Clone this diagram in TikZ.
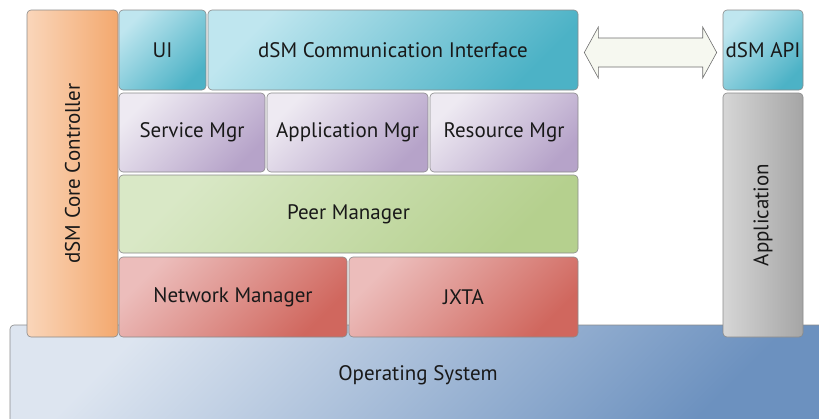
\documentclass[tikz,border=0pt]{standalone}
\usepackage{fontspec}
\setmainfont{PT Sans}
\usetikzlibrary{calc}
\usepackage{xcolor}
\definecolor{edgegray}{RGB}{138,138,138}
\definecolor{ctrlA}{RGB}{250,214,186}
\definecolor{ctrlB}{RGB}{243,168,110}
\definecolor{tealA}{RGB}{191,230,239}
\definecolor{tealB}{RGB}{76,178,198}
\definecolor{purpA}{RGB}{238,234,242}
\definecolor{purpB}{RGB}{182,163,201}
\definecolor{grnA}{RGB}{217,232,198}
\definecolor{grnB}{RGB}{181,208,142}
\definecolor{redA}{RGB}{236,189,187}
\definecolor{redB}{RGB}{208,103,94}
\definecolor{grayA}{RGB}{214,214,214}
\definecolor{grayB}{RGB}{165,165,165}
\definecolor{blueA}{RGB}{221,229,240}
\definecolor{blueB}{RGB}{108,145,191}
\definecolor{arrfill}{RGB}{246,248,240}

\begin{document}
\begin{tikzpicture}[x=1pt, y=-1pt,
  layer/.style={draw=edgegray, line width=0.6pt, rounded corners=4pt, inner sep=0pt,
                font=\fontsize{21}{24}\selectfont, text=black!90},
  shade/.style 2 args={top color=#1, bottom color=#2, shading angle=45},
  ctrlbox/.style={layer, left color=ctrlA, right color=ctrlB},
  tealbox/.style={layer, shade={tealA}{tealB}},
  purpbox/.style={layer, shade={purpA}{purpB}},
  grnbox/.style={layer, shade={grnA}{grnB}},
  redbox/.style={layer, shade={redA}{redB}},
  graybox/.style={layer, left color=grayA, right color=grayB},
  osbox/.style={layer, shade={blueA}{blueB}},
  bigarrow/.style={draw=edgegray!80!black, line width=0.6pt, fill=arrfill, line join=miter}
]
\useasboundingbox (0,0) rectangle (819,418);
\clip (0,0) rectangle (819,418);
% base layer
\node[osbox, minimum width=816pt, minimum height=100pt] (os) at (418,375) {Operating System};
% left column
\node[ctrlbox, minimum width=91pt, minimum height=327pt] (ctrl) at (72.5,173.5) {\rotatebox{90}{dSM Core Controller}};
% stack
\node[tealbox, minimum width=87pt, minimum height=80pt] (ui) at (162.5,50) {UI};
\node[tealbox, minimum width=370pt, minimum height=80pt] (comm) at (393,50) {dSM Communication Interface};
\node[purpbox, minimum width=146pt, minimum height=79pt] (svc) at (192,132.5) {Service Mgr};
\node[purpbox, minimum width=161pt, minimum height=79pt] (appmgr) at (347.5,132.5) {Application Mgr};
\node[purpbox, minimum width=148pt, minimum height=79pt] (res) at (504,132.5) {Resource Mgr};
\node[grnbox, minimum width=459pt, minimum height=78pt] (peer) at (348.5,214) {Peer Manager};
\node[redbox, minimum width=228pt, minimum height=80pt] (net) at (233,297) {Network Manager};
\node[redbox, minimum width=229pt, minimum height=80pt] (jxta) at (463.5,297) {JXTA};
% right column
\node[tealbox, minimum width=80pt, minimum height=80pt] (api) at (763,50) {dSM API};
\node[graybox, minimum width=80pt, minimum height=244pt] (appl) at (763,215) {\rotatebox{90}{Application}};
% link between interface and API
\coordinate (lt) at ($(comm.east)+(6,2.5)$);
\coordinate (rt) at ($(api.west)+(-6,2.5)$);
\draw[bigarrow] (lt) -- ++(14,-25.5) -- ++(0,11) -- ($(rt)+(-14,-14.5)$) -- ++(0,-11) -- (rt)
  -- ++(-14,25.5) -- ++(0,-11) -- ($(lt)+(14,14.5)$) -- ++(0,11) -- cycle;
\end{tikzpicture}
\end{document}
